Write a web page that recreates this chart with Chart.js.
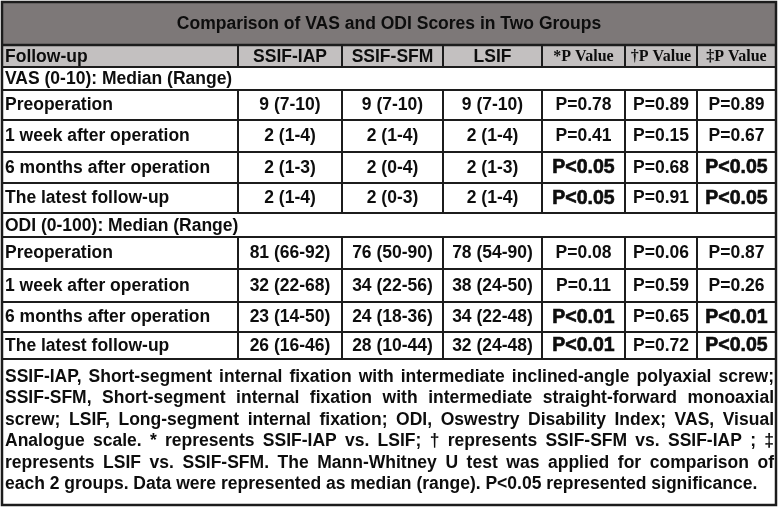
<!DOCTYPE html>
<html><head><meta charset="utf-8">
<script src="https://cdn.jsdelivr.net/npm/chart.js@4.4.1/dist/chart.umd.min.js"></script>
<style>html,body{margin:0;padding:0;background:#fff}#wrap{width:778px;height:507px;position:relative}</style>
</head><body><div id="wrap"><canvas id="c"></canvas></div>
<script>
// ---- data ----
const title = 'Comparison of VAS and ODI Scores in Two Groups';
const firstHeader = 'Follow-up';
const groups = ['SSIF-IAP', 'SSIF-SFM', 'LSIF'];
const pHeaders = ['*P Value', '\u2020P Value', '\u2021P Value'];
const sections = ['VAS (0-10): Median (Range)', 'ODI (0-100): Median (Range)'];
const followUps = ['Preoperation', '1 week after operation', '6 months after operation', 'The latest follow-up'];

const vasIAP  = ['9 (7-10)', '2 (1-4)', '2 (1-3)', '2 (1-4)'];
const vasSFM  = ['9 (7-10)', '2 (1-4)', '2 (0-4)', '2 (0-3)'];
const vasLSIF = ['9 (7-10)', '2 (1-4)', '2 (1-3)', '2 (1-4)'];
const vasP1 = ['P=0.78', 'P=0.41', 'P<0.05', 'P<0.05'];
const vasP2 = ['P=0.89', 'P=0.15', 'P=0.68', 'P=0.91'];
const vasP3 = ['P=0.89', 'P=0.67', 'P<0.05', 'P<0.05'];

const odiIAP  = ['81 (66-92)', '32 (22-68)', '23 (14-50)', '26 (16-46)'];
const odiSFM  = ['76 (50-90)', '34 (22-56)', '24 (18-36)', '28 (10-44)'];
const odiLSIF = ['78 (54-90)', '38 (24-50)', '34 (22-48)', '32 (24-48)'];
const odiP1 = ['P=0.08', 'P=0.11', 'P<0.01', 'P<0.01'];
const odiP2 = ['P=0.06', 'P=0.59', 'P=0.65', 'P=0.72'];
const odiP3 = ['P=0.87', 'P=0.26', 'P<0.01', 'P<0.05'];

const footnoteLines = [
  'SSIF-IAP, Short-segment internal fixation with intermediate inclined-angle polyaxial screw;',
  'SSIF-SFM, Short-segment internal fixation with intermediate straight-forward monoaxial',
  'screw; LSIF, Long-segment internal fixation; ODI, Oswestry Disability Index; VAS, Visual',
  'Analogue scale. * represents SSIF-IAP vs. LSIF; \u2020 represents SSIF-SFM vs. SSIF-IAP ; \u2021',
  'represents LSIF vs. SSIF-SFM. The Mann-Whitney U test was applied for comparison of',
  'each 2 groups. Data were represented as median (range). P<0.05 represented significance.'
];

// ---- table drawing plugin ----
const tablePlugin = {
  id: 'tableDraw',
  afterDraw(chart) {
    const ctx = chart.ctx;
    const A = chart.chartArea;
    const X0 = A.left, Y0 = A.top;
    const cols = [2, 238, 342, 443, 542, 625, 697, 776].map(v => X0 + v);
    const L = cols[0], R = cols[cols.length - 1];
    const T = Y0 + 2, B = Y0 + 505;
    const yTitleB = Y0 + 45, yHeadB = Y0 + 67;
    const vasSecB = Y0 + 90;
    const vasRows = [90, 120, 152, 183, 213].map(v => Y0 + v);
    const odiSecB = Y0 + 237;
    const odiRows = [237, 269, 302, 332, 359].map(v => Y0 + v);
    const sans = '"Liberation Sans", Arial, Helvetica, sans-serif';
    const serif = '"Liberation Serif", "Times New Roman", serif';
    const normFont = 'bold 17.5px ' + sans;
    const sigFont = 'bold 19.5px ' + sans;

    ctx.save();
    ctx.fillStyle = '#ffffff';
    ctx.fillRect(0, 0, chart.width, chart.height);
    ctx.fillStyle = '#7d7878';
    ctx.fillRect(L, T, R - L, yTitleB - T);
    ctx.fillStyle = '#c3c0c0';
    ctx.fillRect(L, yTitleB, R - L, yHeadB - yTitleB);

    // text
    ctx.fillStyle = '#0d0d0d';
    ctx.strokeStyle = '#0d0d0d';
    ctx.textBaseline = 'middle';
    ctx.font = normFont;
    ctx.textAlign = 'center';
    ctx.fillText(title, (L + R) / 2, (T + yTitleB) / 2 + 1);
    ctx.textAlign = 'left';
    ctx.fillText(firstHeader, L + 3, (yTitleB + yHeadB) / 2 + 1);
    ctx.textAlign = 'center';
    groups.forEach((g, i) => ctx.fillText(g, (cols[i + 1] + cols[i + 2]) / 2, (yTitleB + yHeadB) / 2 + 1));
    ctx.font = 'bold 16px ' + serif;
    pHeaders.forEach((p, i) => ctx.fillText(p, (cols[i + 4] + cols[i + 5]) / 2, (yTitleB + yHeadB) / 2 + 1));

    ctx.font = normFont;
    ctx.textAlign = 'left';
    ctx.fillText(sections[0], L + 3, (yHeadB + vasSecB) / 2 + 1);
    ctx.fillText(sections[1], L + 3, (vasRows[4] + odiSecB) / 2 + 1);

    function drawBlock(rows, cells) {
      for (let r = 0; r < followUps.length; r++) {
        const cy = (rows[r] + rows[r + 1]) / 2 + 0.5;
        ctx.font = normFont;
        ctx.textAlign = 'left';
        ctx.fillText(followUps[r], L + 3, cy);
        ctx.textAlign = 'center';
        cells.forEach((arr, c) => {
          const txt = arr[r];
          const sig = txt.indexOf('<') >= 0;
          ctx.font = sig ? sigFont : normFont;
          const cx = (cols[c + 1] + cols[c + 2]) / 2;
          ctx.fillText(txt, cx, cy);
          if (sig) { ctx.lineWidth = 0.6; ctx.strokeText(txt, cx, cy); }
        });
      }
    }
    drawBlock(vasRows, [vasIAP, vasSFM, vasLSIF, vasP1, vasP2, vasP3]);
    drawBlock(odiRows, [odiIAP, odiSFM, odiLSIF, odiP1, odiP2, odiP3]);

    // footnote (justified)
    ctx.font = normFont;
    ctx.textAlign = 'left';
    const fx0 = L + 3, fx1 = R - 2;
    footnoteLines.forEach((line, i) => {
      const cy = Y0 + 377 + i * 21.5;
      const words = line.split(' ');
      if (i === footnoteLines.length - 1) { ctx.fillText(line, fx0, cy); return; }
      const wsum = words.reduce((s, w) => s + ctx.measureText(w).width, 0);
      const gap = (fx1 - fx0 - wsum) / (words.length - 1);
      let x = fx0;
      words.forEach(w => { ctx.fillText(w, x, cy); x += ctx.measureText(w).width + gap; });
    });

    // lines
    ctx.strokeStyle = '#1c1c1c';
    ctx.lineWidth = 2;
    function h(y) { ctx.beginPath(); ctx.moveTo(L, y); ctx.lineTo(R, y); ctx.stroke(); }
    function v(x, y1, y2) { ctx.beginPath(); ctx.moveTo(x, y1); ctx.lineTo(x, y2); ctx.stroke(); }
    ctx.lineWidth = 2.5; h(yTitleB); ctx.lineWidth = 2;
    h(yHeadB); h(vasSecB);
    vasRows.forEach(y => h(y));
    odiRows.forEach(y => h(y));
    for (let c = 1; c < cols.length - 1; c++) {
      v(cols[c], yTitleB, yHeadB);
      v(cols[c], vasRows[0], vasRows[4]);
      v(cols[c], odiRows[0], odiRows[4]);
    }
    ctx.lineWidth = 2.5;
    ctx.strokeRect(L, T, R - L, B - T);
    ctx.restore();
  }
};

new Chart(document.getElementById('c'), {
  type: 'bar',
  data: { labels: [], datasets: [] },
  options: {
    responsive: true,
    maintainAspectRatio: false,
    animation: false,
    events: [],
    layout: { padding: 0 },
    plugins: { legend: { display: false }, tooltip: { enabled: false }, title: { display: false } },
    scales: { x: { display: false }, y: { display: false } }
  },
  plugins: [tablePlugin]
});
</script>
</body></html>
